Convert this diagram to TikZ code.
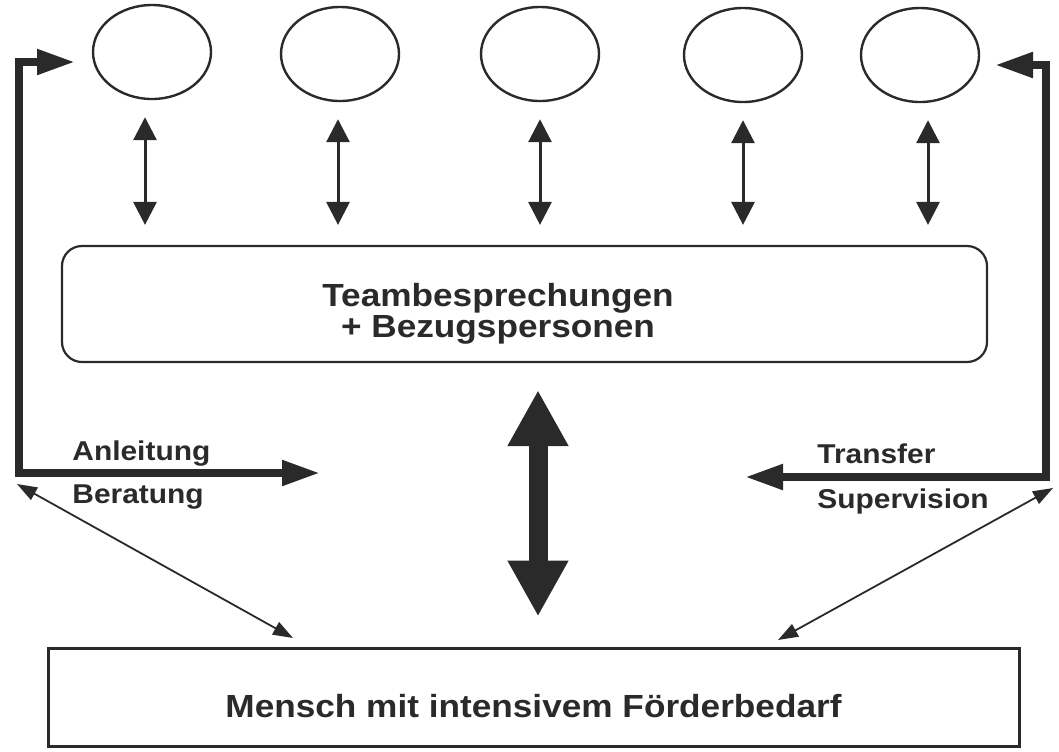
\documentclass[tikz,border=0pt]{standalone}
\usepackage{fontspec}
\setmainfont{Liberation Sans}[FakeStretch=1.1]
\usepackage{tikz}
\usetikzlibrary{arrows.meta}
\usetikzlibrary{shapes.geometric}
\definecolor{ink}{HTML}{2A2A2A}
\tikzset{kreis/.style={draw,ellipse,line width=1.2pt,minimum width=59pt,minimum height=47pt,inner sep=0pt}}
\tikzset{klein/.style={{Triangle[length=11.5pt,width=11.5pt]}-{Triangle[length=11.5pt,width=11.5pt]},line width=1.5pt}}
\tikzset{dick/.style={{Triangle[length=19pt,width=12pt]}-{Triangle[length=19pt,width=12pt]},line width=4pt}}
\tikzset{gross/.style={{Triangle[length=28pt,width=28.5pt]}-{Triangle[length=28pt,width=28.5pt]},line width=9.5pt}}
\tikzset{duenn/.style={{Triangle[length=10pt,width=7pt]}-{Triangle[length=10pt,width=7pt]},line width=0.9pt}}
\tikzset{l/.style={font=\fontsize{13.6}{13.6}\selectfont\bfseries,inner sep=0pt}}
\tikzset{m/.style={font=\fontsize{16}{14}\selectfont\bfseries}}

\begin{document}
\begin{tikzpicture}[x=0.5pt,y=-0.5pt,ink]
  \useasboundingbox (0,0) rectangle (1059,751);
  % the five persons
  \node[kreis] (e1) at (152,52) {};
  \node[kreis] (e2) at (340,54) {};
  \node[kreis] (e3) at (540,54) {};
  \node[kreis] (e4) at (743,55) {};
  \node[kreis] (e5) at (920,55) {};
  \node[draw,rounded corners=10pt,line width=1.1pt,minimum width=462.5pt,minimum height=58pt] (team) at (524.5,304) {};
  \node[m,align=center] (teamtext) at (498,314) {Teambesprechungen\\+ Bezugspersonen};
  \node[m,draw,line width=1.5pt,minimum width=485.5pt,minimum height=49pt,text height=20.5pt,text depth=0pt] (mensch) at (533.5,697) {Mensch mit intensivem Förderbedarf};
  \foreach \i/\d in {1/-3.5,2/-1,3/0,4/0,5/4}
    \draw[klein,shorten <=8.5pt,shorten >=10pt] ([xshift=\d pt]e\i.south) -- ([xshift=\d pt]e\i.south |- team.north);
  % team <-> mensch
  \coordinate (bx) at (538,0);
  \draw[gross,shorten <=13.5pt,shorten >=15pt] (team.south -| bx) -- (mensch.north -| bx);
  % left and right loops
  \coordinate (lt) at (75,62);
  \coordinate (lc) at (19,473);
  \coordinate (lr) at (320,473);
  \draw[dick] (lt) -| (lc) -- (lr);
  \coordinate (rt) at (995,65);
  \coordinate (rc) at (1046,477);
  \coordinate (rl) at (745,477);
  \draw[dick] (rt) -| (rc) -- (rl);
  \node[l,anchor=base west] (anl) at (72,460) {Anleitung};
  \node[l,anchor=base west] (ber) at (72,503) {Beratung};
  \node[l,anchor=base west] (tra) at (817,463) {Transfer};
  \node[l,anchor=base west] (sup) at (817,508) {Supervision};
  \coordinate (ld) at (17,484);
  \coordinate (ml) at (293,638);
  \coordinate (rd) at (1053,488);
  \coordinate (mr) at (778,640);
  \draw[duenn] (ld) -- (ml);
  \draw[duenn] (rd) -- (mr);
\end{tikzpicture}
\end{document}
